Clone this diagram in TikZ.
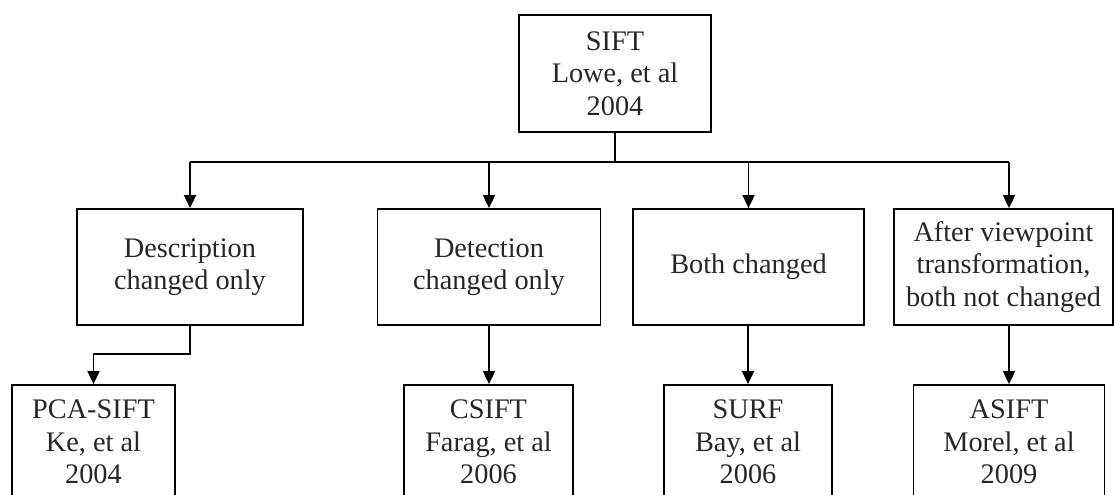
\documentclass[tikz,border=0pt]{standalone}
\usepackage{fontspec}
\setmainfont{Liberation Serif}
\usetikzlibrary{arrows.meta}
\begin{document}
\begin{tikzpicture}[x=1pt,y=-1pt,
  box/.style={draw=black, line width=1.8pt, align=center, inner sep=0pt,
    font=\fontsize{28.3}{32.5}\selectfont, text=black!85},
  conn/.style={line width=1.8pt},
  arr/.style={line width=1.8pt, -{Triangle[length=13pt,width=12pt]}}]
\useasboundingbox (0,0) rectangle (1114,495);
\clip (0,0) rectangle (1114,495);
% top
\node[box, minimum width=192pt, minimum height=117pt] (sift) at (615,73.5) {SIFT\\Lowe, et al\\2004};
% middle
\node[box, minimum width=226pt, minimum height=116pt] (d1) at (190,267) {Description\\changed only};
\node[box, minimum width=223pt, minimum height=116pt] (d2) at (489,267) {Detection\\changed only};
\node[box, minimum width=231pt, minimum height=116pt] (d3) at (748.5,267) {Both changed};
\node[box, minimum width=219pt, minimum height=116pt] (d4) at (1003.5,267) {After viewpoint\\transformation,\\both not changed};
% bottom
\node[box, minimum width=163pt, minimum height=114pt] (b1) at (93.5,442) {PCA-SIFT\\Ke, et al\\2004};
\node[box, minimum width=169pt, minimum height=114pt] (b2) at (488.5,442) {CSIFT\\Farag, et al\\2006};
\node[box, minimum width=168pt, minimum height=114pt] (b3) at (748,442) {SURF\\Bay, et al\\2006};
\node[box, minimum width=191pt, minimum height=114pt] (b4) at (1009,442) {ASIFT\\Morel, et al\\2009};
% bus
\coordinate (j) at (615,162);
\coordinate (busL) at (190,162);
\coordinate (busR) at (1009,162);
\coordinate (bus2) at (489,162);
\coordinate (bus3) at (748.5,162);
\draw[conn] (sift.south) -- (j);
\draw[conn] (busL) -- (busR);
\draw[arr] (busL) -- (busL |- d1.north);
\draw[arr] (bus2) -- (bus2 |- d2.north);
\draw[arr] (bus3) -- (bus3 |- d3.north);
\draw[arr] (busR) -- (busR |- d4.north);
% lower connectors
\draw[arr] (d1.south) -- ++(0,28) -| (b1.north);
\draw[arr] (d2.south) -- (d2.south |- b2.north);
\draw[arr] (b3.north |- d3.south) -- (b3.north);
\draw[arr] (b4.north |- d4.south) -- (b4.north);
\end{tikzpicture}
\end{document}
